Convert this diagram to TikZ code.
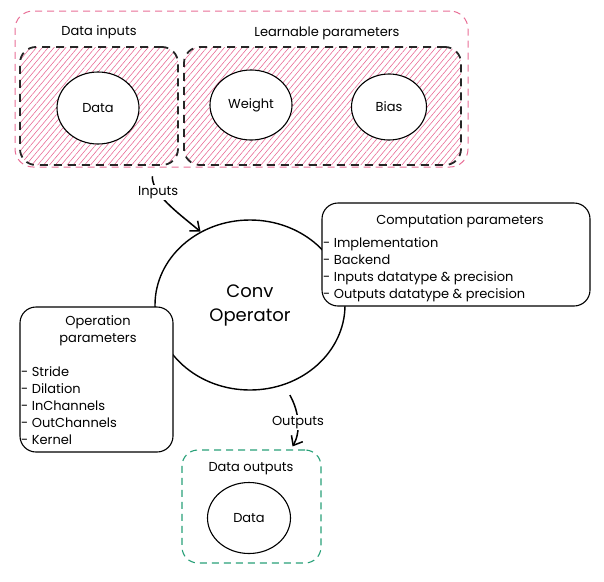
\documentclass[tikz,border=0pt]{standalone}
\usepackage{fontspec}
\setmainfont{Poppins}
\usetikzlibrary{arrows.meta, shapes.geometric, positioning, patterns.meta}
\definecolor{sketchpink}{RGB}{232,110,150}
\definecolor{hatchpink}{RGB}{232,100,145}
\definecolor{sketchgreen}{RGB}{40,160,120}

\begin{document}
\begin{tikzpicture}[
    x=1pt, y=-1pt,
    outerbox/.style={rectangle, draw=sketchpink, line width=1pt,
                     dash pattern=on 7pt off 5pt, rounded corners=18pt},
    hatchbox/.style={rectangle, draw=black!85, line width=1.8pt,
                     dash pattern=on 8pt off 6pt, rounded corners=16pt,
                     pattern={Lines[angle=50, distance=4.5pt, line width=0.55pt]},
                     pattern color=hatchpink},
    outbox/.style={rectangle, draw=sketchgreen, line width=1.1pt,
                   dash pattern=on 7pt off 5pt, rounded corners=16pt},
    tensor/.style={ellipse, draw, line width=1.1pt, fill=white, inner sep=0pt,
                   font=\fontsize{13}{16}\selectfont},
    panel/.style={rectangle, draw, line width=1.1pt, fill=white, rounded corners=16pt},
    caption/.style={font=\fontsize{13}{17}\selectfont},
    items/.style={caption, align=left, anchor=west, inner xsep=1pt},
    arrow/.style={-{Straight Barb[length=8pt, width=13pt]}, line width=1.5pt}
]
    \useasboundingbox (0,0) rectangle (604,581);

    % inputs and learnable parameters
    \node[outerbox, minimum width=453pt, minimum height=156pt] (inputs) at (241.5,89) {};
    \node[hatchbox, minimum width=158pt, minimum height=118pt] (datain) at (99,106) {};
    \node[hatchbox, minimum width=277pt, minimum height=118pt] (learn) at (322.5,106) {};
    \node[caption] (datainlbl) at (99,32) {Data inputs};
    \node[caption] (learnlbl) at (327,33) {Learnable parameters};
    \node[tensor, minimum width=82pt, minimum height=72pt] (data) at (98,108) {Data};
    \node[tensor, minimum width=82pt, minimum height=70pt] (weight) at (251,105) {Weight};
    \node[tensor, minimum width=75pt, minimum height=66pt] (bias) at (389,107) {Bias};

    % operator
    \node[ellipse, draw, line width=1.4pt, minimum width=190pt, minimum height=170pt,
          align=center, font=\fontsize{18}{24}\selectfont] (conv) at (250,305) {Conv\\Operator};

    \node[panel, minimum width=268pt, minimum height=103pt] (comp) at (456,254.5) {};
    \node[caption] (comptitle) at (460,221) {Computation parameters};
    \node[items] (compitems) at (322,269.5)
      {- Implementation\\- Backend\\- Inputs datatype \& precision\\- Outputs datatype \& precision};

    \node[panel, minimum width=153pt, minimum height=145pt] (oppar) at (96.5,379.5) {};
    \node[caption, align=center] (optitle) at (98,331) {Operation\\parameters};
    \node[items] (opitems) at (20,406)
      {- Stride\\- Dilation\\- InChannels\\- OutChannels\\- Kernel};

    % outputs
    \node[outbox, minimum width=139pt, minimum height=113pt] (dataout) at (251.5,506.5) {};
    \node[caption] (dataoutlbl) at (251,469) {Data outputs};
    \node[tensor, minimum width=83pt, minimum height=71pt] (data2) at (249,518) {Data};

    \draw[arrow] ([shift={(-26,11)}]datain.south east) .. controls +(0,18) and +(-24,-20) ..
      node[pos=0.3, caption, fill=white, inner sep=1pt] {Inputs} (conv.124);
    \draw[arrow] ([shift={(3,11)}]conv.-65) .. controls +(10,18) and +(8,-14) ..
      node[pos=0.5, caption, fill=white, inner sep=1pt] {Outputs} ([shift={(-29,-3)}]dataout.north east);
\end{tikzpicture}
\end{document}
